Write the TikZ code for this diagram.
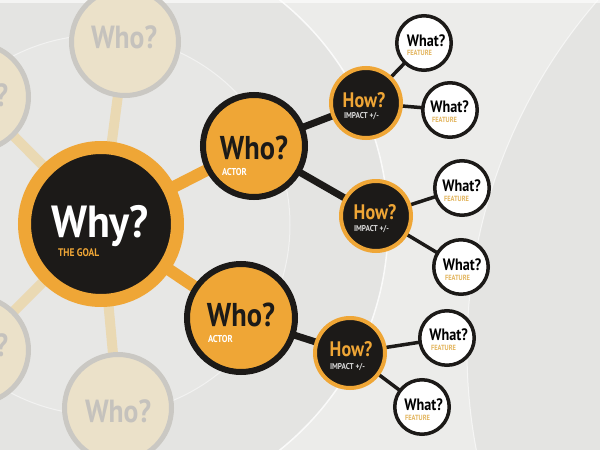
\documentclass[tikz,border=0pt]{standalone}
\usepackage{fontspec}
\newfontfamily\dinf{PT Sans}[FakeStretch=0.86]
\newfontfamily\dinw{PT Sans}[FakeStretch=0.93]
\pgfdeclarelayer{bg}
\pgfdeclarelayer{links}
\pgfsetlayers{bg,links,main}
\definecolor{orng}{HTML}{EFA636}
\definecolor{blk}{HTML}{1C1A18}
\definecolor{bgc}{HTML}{E4E4E2}
\definecolor{bglight}{HTML}{ECECEA}
\definecolor{fadefill}{HTML}{EBE1C9}
\definecolor{fadering}{HTML}{CAC8C3}
\definecolor{fadeline}{HTML}{EAD9B3}
\definecolor{fadetext}{HTML}{C5C2BD}
\definecolor{feat}{HTML}{E3B55E}
\definecolor{impactc}{HTML}{DADADA}
\tikzset{
  whynode/.style={circle, fill=blk, draw=orng, line width=13pt, minimum size=153pt, inner sep=0pt},
  whonode/.style={circle, fill=orng, draw=blk, line width=6pt, inner sep=0pt},
  hownode/.style={circle, fill=blk, draw=orng, line width=4pt, minimum size=70pt, inner sep=0pt},
  whatnode/.style={circle, fill=white, draw=blk, line width=3.5pt, minimum size=54.5pt, inner sep=0pt},
  fadenode/.style={circle, fill=fadefill, draw=fadering, line width=5pt, minimum size=107pt, inner sep=0pt},
  txt/.style={inner sep=0pt, outer sep=0pt},
  bigwhy/.style={txt, anchor=base, text=white, font=\dinw\bfseries\fontsize{45}{45}\selectfont},
  bigwho/.style={txt, anchor=base, text=blk, font=\dinf\bfseries\fontsize{33}{33}\selectfont},
  bighow/.style={txt, anchor=base, text=orng, font=\dinf\bfseries\fontsize{21}{21}\selectfont},
  bigwhat/.style={txt, anchor=base, text=black, font=\dinf\bfseries\fontsize{16.5}{16.5}\selectfont},
  fadewho/.style={txt, anchor=base, text=fadetext, font=\dinf\bfseries\fontsize{32}{32}\selectfont},
  goallbl/.style={txt, anchor=base west, text=orng, font=\dinf\bfseries\fontsize{11}{11}\selectfont},
  actorlbl/.style={txt, anchor=base west, text=white, font=\dinf\bfseries\fontsize{10}{10}\selectfont},
  impactlbl/.style={txt, anchor=base west, text=impactc, font=\dinf\bfseries\fontsize{8.5}{8.5}\selectfont},
  featlbl/.style={txt, anchor=base west, text=feat, font=\dinf\bfseries\fontsize{7.5}{7.5}\selectfont},
  orangelink/.style={draw=orng, line width=12pt},
  blacklink/.style={draw=blk, line width=7pt},
  thinlink/.style={draw=blk, line width=3.5pt},
  fadelink/.style={draw=fadeline, line width=10pt},
}
\begin{document}
\begin{tikzpicture}[x=1pt, y=-1pt]
\useasboundingbox (0,0) rectangle (600,450);
\clip (0,0) rectangle (600,450);
% background
\begin{pgfonlayer}{bg}
  \fill[bgc] (0,0) rectangle (600,450);
  \begin{scope}[even odd rule]
    \clip (-10,-10) rectangle (610,460) (1000,350) circle (533pt);
    \fill[bglight] (-10,-10) rectangle (610,460) (100,225) circle (288pt);
  \end{scope}
  \fill[white, opacity=0.12] (100,225) circle (190pt);
  \draw[white, line width=1.5pt, opacity=0.8] (100,225) circle (288pt);
  \draw[white, line width=1pt, opacity=0.5] (100,225) circle (190pt);
  \draw[white, line width=1pt, opacity=0.6] (1000,350) circle (533pt);
  \fill[white, opacity=0.6] (0,0) rectangle (600,3);
\end{pgfonlayer}
% faded nodes
\node[fadenode] (f1) at (125,42) {};
\node[fadenode] (f2) at (-25,97) {};
\node[fadenode] (f3) at (-25,350) {};
\node[fadenode] (f4) at (118,408) {};
\node[fadewho] (f1t) at (124,48) {Who?};
\node[fadewho] (f2t) at (-25,106) {Who?};
\node[fadewho] (f3t) at (-25,356) {Who?};
\node[fadewho] (f4t) at (118,422) {Who?};
% main nodes
\node[whynode] (why) at (101,224) {};
\node[whonode, minimum size=102pt] (who1) at (254,146) {};
\node[whonode, minimum size=108pt] (who2) at (241,318) {};
\node[hownode] (how1) at (366,103) {};
\node[hownode] (how2) at (376,216) {};
\node[hownode] (how3) at (350,353) {};
\node[whatnode] (what1) at (424,43) {};
\node[whatnode] (what2) at (450,110) {};
\node[whatnode] (what3) at (462,188) {};
\node[whatnode] (what4) at (461,267) {};
\node[whatnode] (what5) at (447,338) {};
\node[whatnode] (what6) at (422,407) {};
% texts
\node[bigwhy] (whyt) at (100,237) {Why?};
\node[goallbl] (whyl) at (58,256) {THE GOAL};
\node[bigwho] (who1t) at (254,159) {Who?};
\node[actorlbl] (who1l) at (222,175) {ACTOR};
\node[bigwho] (who2t) at (241,326) {Who?};
\node[actorlbl] (who2l) at (208,342) {ACTOR};
\node[bighow] (how1t) at (364,107) {How?};
\node[impactlbl] (how1l) at (344,118) {IMPACT +/-};
\node[bighow] (how2t) at (375,219) {How?};
\node[impactlbl] (how2l) at (354,231) {IMPACT +/-};
\node[bighow] (how3t) at (351,356) {How?};
\node[impactlbl] (how3l) at (330,369) {IMPACT +/-};
\node[bigwhat] (what1t) at (426,46) {What?};
\node[featlbl] (what1l) at (407,55) {FEATURE};
\node[bigwhat] (what2t) at (449.5,112) {What?};
\node[featlbl] (what2l) at (432,122) {FEATURE};
\node[bigwhat] (what3t) at (461.5,191) {What?};
\node[featlbl] (what3l) at (444,201) {FEATURE};
\node[bigwhat] (what4t) at (462,270) {What?};
\node[featlbl] (what4l) at (445,280) {FEATURE};
\node[bigwhat] (what5t) at (448.5,340) {What?};
\node[featlbl] (what5l) at (431,350) {FEATURE};
\node[bigwhat] (what6t) at (423.5,410) {What?};
\node[featlbl] (what6l) at (405,420) {FEATURE};
% links
\begin{pgfonlayer}{links}
  \path[fadelink] (f1.center) -- (why.center);
  \path[fadelink] (f2.center) -- (why.center);
  \path[fadelink] (f3.center) -- (why.center);
  \path[fadelink] (f4.center) -- (why.center);
  \path[orangelink] (why.center) -- (who1.center);
  \path[orangelink] (why.center) -- (who2.center);
  \path[blacklink] (who1.center) -- (how1.center);
  \path[blacklink] (who1.center) -- (how2.center);
  \path[blacklink] (who2.center) -- (how3.center);
  \path[thinlink] (how1.center) -- (what1.center);
  \path[thinlink] (how1.center) -- (what2.center);
  \path[thinlink] (how2.center) -- (what3.center);
  \path[thinlink] (how2.center) -- (what4.center);
  \path[thinlink] (how3.center) -- (what5.center);
  \path[thinlink] (how3.center) -- (what6.center);
\end{pgfonlayer}
\end{tikzpicture}
\end{document}
